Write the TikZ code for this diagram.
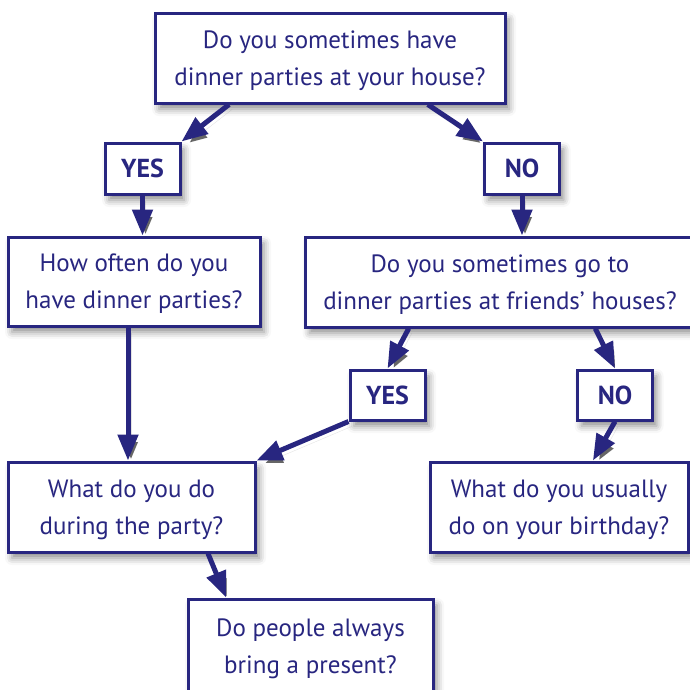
\documentclass[tikz,border=0pt]{standalone}
\usepackage{fontspec}
\setmainfont{PT Sans}
\usetikzlibrary{arrows.meta,shadows.blur,calc}
\definecolor{navy}{RGB}{40,38,128}
\begin{document}
\begin{tikzpicture}[x=1pt,y=-1pt,
 box/.style={draw=navy, line width=3pt, fill=white, text=navy, align=center, inner sep=0pt,
   font=\fontsize{25}{37}\selectfont, text depth=0pt,
   blur shadow={shadow xshift=4pt, shadow yshift=-6pt, shadow blur radius=7pt, shadow opacity=45}},
 lbl/.style={box, font=\bfseries\fontsize{26}{36}\selectfont, text depth=, minimum width=75pt, minimum height=51pt},
 arr/.style={draw=navy, line width=5pt, -{Triangle[width=20pt,length=26pt]},
   preaction={draw=black!60, draw opacity=0.18, transform canvas={shift={(3pt,-5pt)}}}}]
\useasboundingbox (0,0) rectangle (690,689);
% boxes
\node[box, minimum width=350pt, minimum height=90pt] (top) at (330,58) {Do you sometimes have\\dinner parties at your house?};
\node[lbl] (yes1) at (142.5,168.5) {YES};
\node[lbl] (no1) at (522,168.5) {NO};
\node[box, minimum width=252pt, minimum height=89pt] (often) at (134,281.5) {How often do you\\have dinner parties?};
\node[box, minimum width=389pt, minimum height=90pt] (go) at (500,282) {Do you sometimes go to\\dinner parties at friends’ houses?};
\node[lbl, minimum height=50pt] (yes2) at (387.5,395) {YES};
\node[lbl, minimum height=50pt] (no2) at (615,395) {NO};
\node[box, minimum width=247pt, minimum height=90pt] (do) at (131.5,507) {What do you do\\during the party?};
\node[box, minimum width=258pt, minimum height=90pt] (bday) at (559,507) {What do you usually\\do on your birthday?};
\node[box, minimum width=245pt, minimum height=94pt] (present) at (310.5,646) {Do people always\\bring a present?};
% connectors
\draw[arr] ($(top.south west)!0.214!(top.south east)$) -- (yes1.north east);
\draw[arr] ($(top.south west)!0.777!(top.south east)$) -- (no1.north west);
\draw[arr] (yes1.south) -- (yes1.south |- often.north);
\draw[arr] (no1.south) -- (no1.south |- go.north);
\coordinate (oft) at ($(often.south)+(-6,0)$);
\draw[arr] (oft) -- (oft |- do.north);
\draw[arr] ($(go.south west)!0.267!(go.south east)$) -- (yes2.north);
\draw[arr] ($(go.south west)!0.743!(go.south east)$) -- (no2.north);
\draw[arr] (yes2.south west) -- (do.north east);
\draw[arr] (no2.south) -- ($(bday.north west)!0.63!(bday.north east)$);
\draw[arr] ($(do.south west)!0.806!(do.south east)$) -- ($(present.north west)!0.16!(present.north east)$);
\end{tikzpicture}
\end{document}
